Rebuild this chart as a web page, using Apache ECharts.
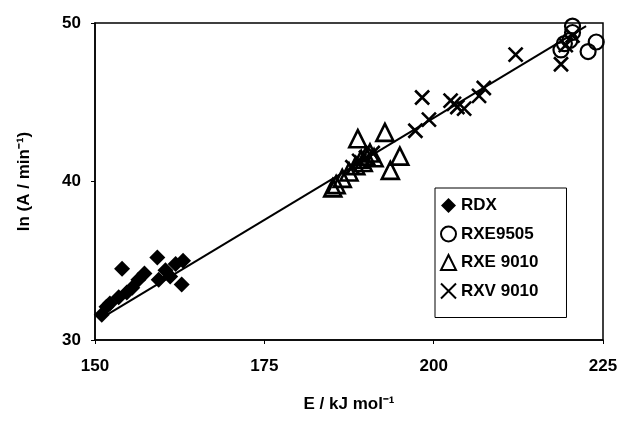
<!DOCTYPE html>
<html><head><meta charset="utf-8">
<script src="https://cdn.jsdelivr.net/npm/echarts@6/dist/echarts.min.js"></script>
<style>html,body{margin:0;padding:0;background:#fff}#c{width:629px;height:428px}</style>
</head><body><div id="c"></div>
<script>
const xTicks = [150, 175, 200, 225];
const yTicks = [30, 40, 50];
const rdx = [[151.0,31.6],[151.7,32.1],[152.2,32.3],[153.5,32.7],[154.0,34.5],[154.7,33.0],[155.5,33.3],[156.4,33.8],[157.3,34.2],[159.2,35.2],[159.4,33.8],[160.4,34.4],[161.1,34.0],[161.9,34.8],[162.8,33.5],[163.0,35.0]];
const rxe9505 = [[218.8,48.3],[219.3,48.7],[220.1,48.9],[220.5,49.4],[220.5,49.8],[222.8,48.2],[224.0,48.8]];
const rxe9010 = [[185.1,39.6],[185.6,39.8],[186.5,40.2],[187.5,40.6],[188.5,41.0],[188.8,42.7],[189.3,41.4],[189.6,41.2],[190.0,41.6],[190.6,41.8],[191.2,41.5],[192.8,43.1],[193.6,40.7],[195.0,41.6]];
const rxv9010 = [[188.0,40.9],[189.0,41.3],[190.0,41.5],[191.0,41.8],[197.3,43.2],[198.3,45.3],[199.3,43.9],[202.5,45.1],[203.0,44.9],[203.5,44.7],[204.5,44.6],[206.7,45.4],[207.4,45.9],[212.1,48.0],[218.8,47.4],[219.5,48.6],[220.5,49.2]];
const fitX = [151, 222.5];
const fitY = [31.4, 49.8];

const chart = echarts.init(document.getElementById('c'));
const font = 'Liberation Sans, Arial, sans-serif';
const crossPath = 'path://M0,0L10,10M10,0L0,10';
chart.setOption({
  animation: false,
  grid: {left: 95, top: 23, right: 26, bottom: 88, show: true, borderColor: '#000', borderWidth: 1.5},
  xAxis: {
    type: 'value', min: 150, max: 225, interval: 25,
    name: 'E / kJ mol⁻¹', nameLocation: 'middle', nameGap: 56,
    nameTextStyle: {fontFamily: font, fontWeight: 'bold', fontSize: 17, color: '#000'},
    axisLine: {lineStyle: {color: '#000', width: 1.5}},
    axisTick: {show: true, length: 4, lineStyle: {color: '#000'}},
    axisLabel: {fontFamily: font, fontWeight: 'bold', fontSize: 17, color: '#000', margin: 18,
      formatter: v => xTicks.includes(v) ? String(v) : ''},
    splitLine: {show: false}
  },
  yAxis: {
    type: 'value', min: 30, max: 50, interval: 10,
    name: 'ln (A / min⁻¹)', nameLocation: 'middle', nameGap: 62, nameRotate: 90,
    nameTextStyle: {fontFamily: font, fontWeight: 'bold', fontSize: 17, color: '#000'},
    axisLine: {lineStyle: {color: '#000', width: 1.5}},
    axisTick: {show: true, length: 4, lineStyle: {color: '#000'}},
    axisLabel: {fontFamily: font, fontWeight: 'bold', fontSize: 17, color: '#000', margin: 14,
      formatter: v => yTicks.includes(v) ? String(v) : ''},
    splitLine: {show: false}
  },
  legend: {
    data: ['RDX', 'RXE9505', 'RXE 9010', 'RXV 9010'],
    orient: 'vertical', left: 435, top: 188,
    backgroundColor: '#fff', borderColor: '#000', borderWidth: 1,
    padding: [9, 28, 18, 5], itemGap: 11.5, itemWidth: 15, itemHeight: 15,
    textStyle: {fontFamily: font, fontWeight: 'bold', fontSize: 17, color: '#000'}
  },
  series: [
    {name: 'fit', type: 'line', data: fitX.map((x, i) => [x, fitY[i]]), symbol: 'none',
      lineStyle: {color: '#000', width: 2}, z: 1},
    {name: 'RDX', type: 'scatter', data: rdx, symbol: 'diamond', symbolSize: 16,
      itemStyle: {color: '#000', opacity: 1}},
    {name: 'RXE9505', type: 'scatter', data: rxe9505, symbol: 'circle', symbolSize: 15,
      itemStyle: {color: 'rgba(255,255,255,0)', borderColor: '#000', borderWidth: 2.2, opacity: 1}},
    {name: 'RXE 9010', type: 'scatter', data: rxe9010, symbol: 'triangle', symbolSize: 17,
      itemStyle: {color: 'rgba(255,255,255,0)', borderColor: '#000', borderWidth: 2.6, opacity: 1}},
    {name: 'RXV 9010', type: 'scatter', data: rxv9010, symbol: crossPath, symbolSize: 14,
      itemStyle: {color: 'rgba(255,255,255,0)', borderColor: '#000', borderWidth: 2.6, opacity: 1}}
  ]
});
</script></body></html>
